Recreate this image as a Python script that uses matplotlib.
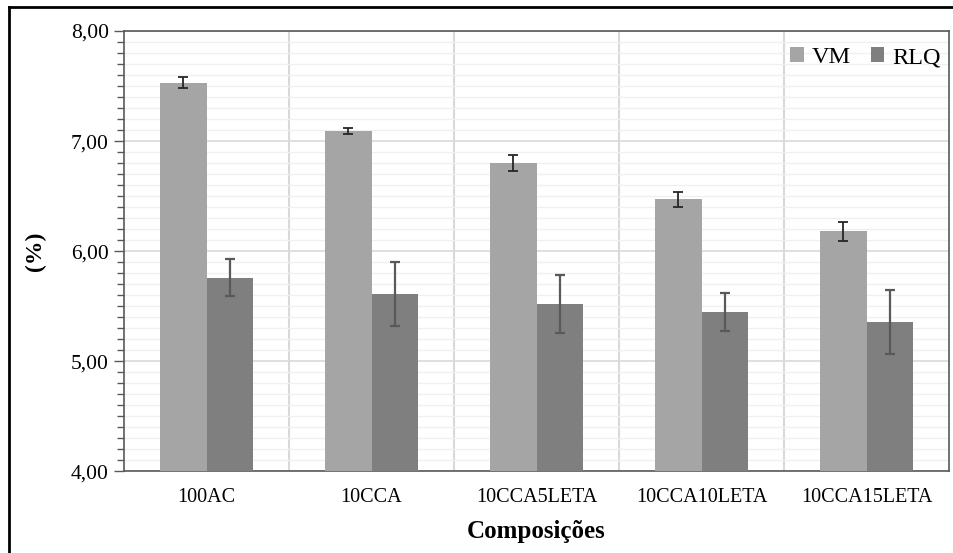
import numpy as np
import matplotlib
matplotlib.use('Agg')
import matplotlib.pyplot as plt
from matplotlib.ticker import MultipleLocator, FixedLocator, FuncFormatter
from matplotlib.lines import Line2D

# Data
categories = ['100AC', '10CCA', '10CCA5LETA', '10CCA10LETA', '10CCA15LETA']
vm = [7.53, 7.09, 6.80, 6.47, 6.18]
vm_err = [0.05, 0.03, 0.07, 0.07, 0.085]
rlq = [5.76, 5.61, 5.52, 5.45, 5.36]
rlq_err = [0.17, 0.29, 0.26, 0.17, 0.29]

plt.rcParams['font.family'] = ['Liberation Serif', 'DejaVu Serif']

fig = plt.figure(figsize=(9.54, 5.53), dpi=100)
ax = fig.add_axes([0.130, 0.1474, 0.8648, 0.7966])

x = np.arange(len(categories))
w = 0.282
ax.bar(x - w / 2, vm, w, color='#a5a5a5', label='VM', zorder=3)
ax.bar(x + w / 2, rlq, w, color='#7f7f7f', label='RLQ', zorder=3)
ax.errorbar(x - w / 2, vm, yerr=vm_err, fmt='none', ecolor='#262626',
            elinewidth=1.3, capsize=3.8, capthick=1.3, zorder=4)
ax.errorbar(x + w / 2, rlq, yerr=rlq_err, fmt='none', ecolor='#595959',
            elinewidth=1.6, capsize=3.8, capthick=1.6, zorder=4)

ax.set_ylim(4, 8)
ax.set_xlim(-0.5, len(categories) - 0.5)
ax.yaxis.set_major_locator(MultipleLocator(1))
ax.yaxis.set_minor_locator(MultipleLocator(0.1))
ax.yaxis.set_major_formatter(FuncFormatter(lambda v, p: f'{v:.2f}'.replace('.', ',')))
ax.set_xticks(x)
ax.set_xticklabels(categories)
ax.xaxis.set_minor_locator(FixedLocator(np.arange(0.5, len(categories) - 0.5, 1)))

ax.grid(which='major', axis='y', color='#d9d9d9', linewidth=1.2, zorder=0)
ax.grid(which='minor', axis='y', color='#f0f0f0', linewidth=1.0, zorder=0)
ax.grid(which='minor', axis='x', color='#d9d9d9', linewidth=1.5, zorder=0)
ax.set_axisbelow(True)

ax.tick_params(axis='y', which='major', length=7, width=1, color='#595959',
               labelsize=15.5, pad=4)
ax.tick_params(axis='y', which='minor', length=5, width=1, color='#595959')
ax.tick_params(axis='x', which='both', length=0, labelsize=14.5, pad=12)
for s in ax.spines.values():
    s.set_color('#595959')
    s.set_linewidth(1.2)

ax.set_xlabel('Composições', fontsize=18, fontweight='bold', labelpad=9)
ax.set_ylabel('(%)', fontsize=17, fontweight='bold', labelpad=18)

leg = ax.legend(loc='upper right', bbox_to_anchor=(1.002, 0.985), ncol=2,
                frameon=False, fontsize=17.5, handlelength=0.55,
                handleheight=0.55, handletextpad=0.35, columnspacing=0.8,
                borderaxespad=0.0)

# figure border (top and left only, as in the cropped original)
fig.add_artist(Line2D([9.5 / 954, 1], [1 - 6.5 / 553, 1 - 6.5 / 553],
                      transform=fig.transFigure, color='black', linewidth=2))
fig.add_artist(Line2D([9.5 / 954, 9.5 / 954], [0, 1 - 6.5 / 553],
                      transform=fig.transFigure, color='black', linewidth=2))

fig.savefig('out.png', dpi=100)
